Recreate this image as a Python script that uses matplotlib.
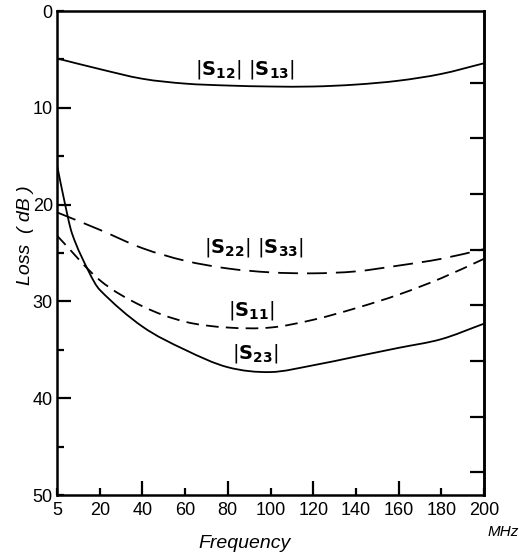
import numpy as np
import matplotlib
matplotlib.use("Agg")
import matplotlib.pyplot as plt
from matplotlib.path import Path
from matplotlib.patches import PathPatch

# values (frequency in MHz, loss in dB)
freq = [5, 20, 40, 60, 80, 100, 120, 140, 160, 180, 200]
s12_s13 = [4.9, 6.0, 7.0, 7.5, 7.7, 7.8, 7.8, 7.6, 7.2, 6.5, 5.4]
s22_s33 = [20.8, 22.6, 24.5, 25.8, 26.6, 27.0, 27.1, 26.9, 26.3, 25.6, 24.6]
s11 = [23.2, 27.8, 30.5, 32.1, 32.7, 32.7, 31.9, 30.7, 29.3, 27.6, 25.6]

# |S23| falls steeply near 5 MHz, so it has extra points there
freq_s23 = [5, 7.5, 10.3, 16.3, 20, 40, 60, 80, 100, 120, 140, 160, 180, 200]
s23 = [15.9, 19.5, 23.0, 27.0, 28.8, 32.6, 35.0, 36.8, 37.3, 36.6, 35.7, 34.8, 33.9, 32.3]

x_long = [40, 80, 120, 160]
x_short = [5, 20, 60, 100, 140, 180, 200]
y_long = [10, 20, 30, 40]
y_short = [0, 5, 15, 25, 35, 45, 50]
y_right = [7.4, 13.15, 18.9, 24.65, 30.4, 36.15, 41.9, 47.65]


# the 5..20 span is drawn as wide as a 20 MHz step
def fwd(f):
    f = np.asarray(f, dtype=float)
    return np.where(f < 20, (f - 5) * 20 / 15, f)


def inv(p):
    p = np.asarray(p, dtype=float)
    return np.where(p < 20, 5 + p * 15 / 20, p)


def smooth_curve(xs, ys, **kw):
    # Hermite segments through the read points, drawn as cubic Beziers
    px = fwd(xs)
    py = np.asarray(ys, dtype=float)
    n = len(px)
    m = np.empty(n)
    m[0] = (py[1] - py[0]) / (px[1] - px[0])
    m[-1] = (py[-1] - py[-2]) / (px[-1] - px[-2])
    m[1:-1] = (py[2:] - py[:-2]) / (px[2:] - px[:-2])
    verts = [(px[0], py[0])]
    codes = [Path.MOVETO]
    for i in range(n - 1):
        h = px[i + 1] - px[i]
        verts += [(px[i] + h / 3, py[i] + m[i] * h / 3),
                  (px[i + 1] - h / 3, py[i + 1] - m[i + 1] * h / 3),
                  (px[i + 1], py[i + 1])]
        codes += [Path.CURVE4] * 3
    verts = np.array(verts)
    verts[:, 0] = inv(verts[:, 0])
    ax.add_patch(PathPatch(Path(verts, codes), fill=False, edgecolor='black',
                           transform=ax.transData, **kw))


plt.rcParams['font.family'] = ['Liberation Sans', 'DejaVu Sans']

fig = plt.figure(figsize=(5.19, 5.55), dpi=100)
ax = fig.add_axes([57 / 519, 1 - 495 / 555, 427 / 519, 484 / 555])
ax.set_xscale('function', functions=(fwd, inv))
ax.set_xlim(5, 200)
ax.set_ylim(50, 0)

lw = 1.3
smooth_curve(freq, s12_s13, lw=lw)
smooth_curve(freq, s22_s33, lw=lw, linestyle=(0, (11, 5)))
smooth_curve(freq, s11, lw=lw, linestyle=(0, (7, 4)))
smooth_curve(freq_s23, s23, lw=lw)

ax.set_xticks(x_long, labels=[str(v) for v in x_long])
ax.set_xticks(x_short, labels=[str(v) for v in x_short], minor=True)
ax.set_yticks(y_long, labels=[str(v) for v in y_long])
ax.set_yticks(y_short, labels=['0', '', '', '', '', '', '50'], minor=True)

ax.tick_params(which='both', direction='in', width=1.6, labelsize=13, pad=3)
ax.tick_params(which='major', length=10)
ax.tick_params(which='minor', length=5)
ax.tick_params(axis='x', which='both', pad=5)

for sp in ax.spines.values():
    sp.set_linewidth(1.8)

right = ax.secondary_yaxis('right')
right.set_yticks(y_right, labels=[''] * len(y_right))
right.tick_params(direction='in', length=10, width=1.6)
right.spines['right'].set_linewidth(1.8)

lab = dict(ha='center', va='center', fontsize=14, family='DejaVu Sans')
ax.text(88, 6.0, r'$|\mathbf{S}_{\mathbf{12}}|\ |\mathbf{S}_{\mathbf{13}}|$', **lab)
ax.text(92, 24.4, r'$|\mathbf{S}_{\mathbf{22}}|\ |\mathbf{S}_{\mathbf{33}}|$', **lab)
ax.text(91, 30.9, r'$|\mathbf{S}_{\mathbf{11}}|$', **lab)
ax.text(93, 35.4, r'$|\mathbf{S}_{\mathbf{23}}|$', **lab)

fig.text(25 / 519, 1 - 235 / 555, 'Loss  ( dB )', rotation=90, ha='center', va='center',
         fontsize=14, style='italic')
fig.text(245 / 519, 1 - 543 / 555, 'Frequency', ha='center', va='center',
         fontsize=14, style='italic')
fig.text(503 / 519, 1 - 532 / 555, 'MHz', ha='center', va='center',
         fontsize=11, style='italic')

fig.savefig('out.png', dpi=100)
